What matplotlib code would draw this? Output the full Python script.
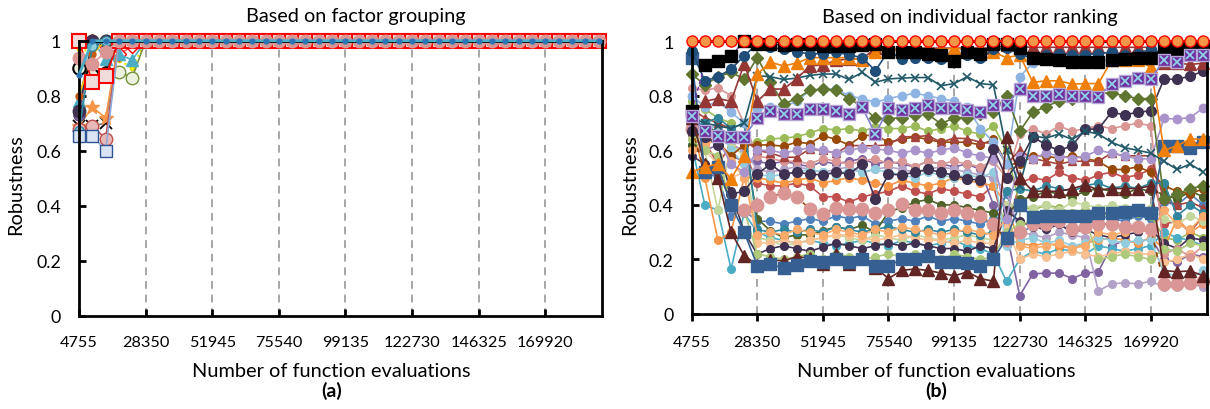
import numpy as np
import matplotlib
matplotlib.use('Agg')
import matplotlib.pyplot as plt

plt.rcParams['font.family'] = ['Lato', 'DejaVu Sans']

# number of function evaluations (40 sampled points) and axis ticks
evals = np.arange(4755, 190000, 4719)
tick_evals = [4755, 28350, 51945, 75540, 99135, 122730, 146325, 169920]
y_ticks = [0, 0.2, 0.4, 0.6, 0.8, 1]
y_labels = ['0', '0.2', '0.4', '0.6', '0.8', '1']

# ---- panel (a): first five points of each series, afterwards all at 1 ----
a_tail = [1.0] * 35
a_light_sq = [0.655, 0.655, 0.60, 1.0, 1.0]
a_pink = [0.936, 0.915, 0.96, 1.0, 1.0]
a_black_ring = [0.90, 0.875, 0.883, 1.0, 1.0]
a_red_sq = [1.0, 0.85, 0.87, 1.0, 1.0]
a_olive_ring = [1.0, 1.0, 1.0, 0.885, 0.866]
a_teal_tri = [0.78, 1.0, 0.933, 0.95, 0.93]
a_orange_star = [0.69, 0.758, 0.72, 1.0, 1.0]
a_black_x = [0.69, 0.69, 0.70, 1.0, 1.0]
a_salmon = [0.68, 0.69, 0.643, 1.0, 1.0]
a_dark_purple = [0.745, 1.0, 1.0, 1.0, 1.0]
a_brown = [0.80, 0.95, 1.0, 1.0, 1.0]
a_red_diamond = [1.0, 1.0, 0.98, 0.95, 0.98]
a_yellow = [0.97, 0.96, 1.0, 0.93, 0.90]
a_purple = [0.73, 1.0, 0.99, 1.0, 1.0]
a_teal_circle = [0.673, 0.98, 1.0, 1.0, 1.0]
a_blue_dot = [0.875, 1.0, 1.0, 1.0, 1.0]

# ---- panel (b) ----
b_top = [1.0] * 40
b_black_sq = [0.745, 0.913, 0.929, 0.947, 1.0, 0.99, 0.99, 0.985, 0.99, 0.99,
              0.984, 0.984, 0.984, 0.985, 0.99, 0.962, 0.96, 0.96, 0.953, 0.95,
              0.929, 0.96, 0.955, 0.99, 0.99, 0.976, 0.937, 0.935, 0.933, 0.925,
              0.925, 0.925, 0.93, 0.935, 0.94, 0.94, 0.974, 0.972, 0.984, 0.984]
b_dark_blue = [0.965, 0.855, 0.87, 0.898, 0.947, 0.99, 0.978, 0.97, 0.96, 0.955,
               0.953, 0.96, 0.95, 0.94, 0.892, 0.965, 0.935, 0.94, 0.94, 0.935,
               0.927, 0.95, 0.94, 0.97, 0.975, 0.955, 0.935, 0.95, 0.955, 0.95,
               0.95, 0.955, 0.96, 0.95, 0.955, 0.972, 0.955, 0.96, 0.96, 0.955]
b_orange_tri = [0.52, 0.54, 0.55, 0.495, 0.58, 0.88, 0.923, 0.91, 0.92, 0.94,
                0.94, 0.94, 0.94, 0.93, 0.96, 0.97, 0.97, 0.97, 0.97, 0.97,
                0.975, 0.97, 0.97, 0.96, 0.94, 0.95, 0.85, 0.855, 0.855, 0.843,
                0.845, 0.845, 0.93, 0.93, 0.93, 0.905, 0.60, 0.617, 0.642, 0.64]
b_brick_tri = [0.73, 0.78, 0.79, 0.78, 0.917, 0.78, 0.825, 0.825, 0.862, 0.91,
               0.913, 0.93, 0.935, 0.935, 0.975, 0.97, 0.97, 0.975, 0.975, 0.975,
               0.975, 0.975, 0.975, 0.975, 0.985, 0.98, 0.978, 0.978, 0.978, 0.978,
               0.978, 0.978, 0.978, 0.978, 0.978, 0.978, 0.92, 0.92, 0.915, 0.92]
b_teal_x = [0.72, 0.70, 0.69, 0.68, 0.70, 0.874, 0.87, 0.86, 0.865, 0.875,
            0.88, 0.88, 0.86, 0.886, 0.85, 0.862, 0.865, 0.867, 0.867, 0.837,
            0.845, 0.87, 0.845, 0.84, 0.60, 0.47, 0.654, 0.645, 0.66, 0.64,
            0.67, 0.66, 0.63, 0.61, 0.60, 0.59, 0.56, 0.53, 0.55, 0.52]
b_purple_xsq = [0.727, 0.672, 0.654, 0.65, 0.65, 0.718, 0.745, 0.735, 0.735, 0.752,
                0.752, 0.745, 0.735, 0.758, 0.66, 0.754, 0.748, 0.756, 0.766, 0.757,
                0.757, 0.748, 0.74, 0.766, 0.766, 0.825, 0.80, 0.80, 0.807, 0.80,
                0.80, 0.797, 0.843, 0.855, 0.864, 0.862, 0.93, 0.925, 0.95, 0.95]
b_green_dia = [0.88, 0.84, 0.87, 0.886, 0.862, 0.94, 0.85, 0.77, 0.79, 0.82,
               0.825, 0.82, 0.79, 0.76, 0.718, 0.716, 0.72, 0.73, 0.733, 0.697,
               0.72, 0.72, 0.735, 0.74, 0.80, 0.67, 0.74, 0.76, 0.782, 0.79,
               0.807, 0.81, 0.81, 0.80, 0.79, 0.79, 0.42, 0.44, 0.46, 0.47]
b_light_blue = [0.80, 0.76, 0.78, 0.74, 0.70, 0.75, 0.76, 0.76, 0.78, 0.82,
                0.825, 0.825, 0.80, 0.79, 0.776, 0.79, 0.80, 0.81, 0.80, 0.79,
                0.78, 0.76, 0.68, 0.63, 0.55, 0.87, 0.92, 0.93, 0.93, 0.93,
                0.93, 0.93, 0.93, 0.93, 0.93, 0.93, 0.94, 0.94, 0.95, 0.95]
b_navy = [0.67, 0.65, 0.62, 0.44, 0.45, 0.513, 0.55, 0.513, 0.52, 0.513,
          0.51, 0.52, 0.513, 0.55, 0.42, 0.513, 0.51, 0.52, 0.53, 0.52,
          0.508, 0.496, 0.49, 0.605, 0.50, 0.56, 0.65, 0.62, 0.60, 0.617,
          0.678, 0.678, 0.74, 0.73, 0.74, 0.745, 0.862, 0.86, 0.873, 0.89]
b_lavender = [0.68, 0.66, 0.64, 0.55, 0.52, 0.60, 0.60, 0.59, 0.60, 0.61,
              0.60, 0.59, 0.60, 0.61, 0.605, 0.60, 0.59, 0.60, 0.59, 0.60,
              0.61, 0.59, 0.58, 0.57, 0.35, 0.58, 0.57, 0.59, 0.58, 0.57,
              0.58, 0.60, 0.59, 0.58, 0.568, 0.57, 0.717, 0.715, 0.72, 0.756]
b_blue_sq = [0.937, 0.52, 0.54, 0.40, 0.30, 0.177, 0.183, 0.168, 0.18, 0.195,
             0.19, 0.2, 0.19, 0.2, 0.177, 0.177, 0.2, 0.2, 0.213, 0.19,
             0.19, 0.188, 0.176, 0.20, 0.28, 0.40, 0.356, 0.36, 0.36, 0.36,
             0.36, 0.37, 0.37, 0.375, 0.38, 0.37, 0.617, 0.615, 0.61, 0.63]
b_maroon_tri = [0.72, 0.55, 0.50, 0.30, 0.214, 0.18, 0.198, 0.195, 0.21, 0.205,
                0.183, 0.22, 0.185, 0.205, 0.17, 0.13, 0.16, 0.165, 0.16, 0.15,
                0.14, 0.154, 0.13, 0.12, 0.65, 0.50, 0.45, 0.45, 0.45, 0.46,
                0.473, 0.455, 0.46, 0.46, 0.46, 0.47, 0.159, 0.155, 0.158, 0.14]
b_pink_big = [0.68, 0.52, 0.54, 0.40, 0.38, 0.40, 0.43, 0.444, 0.43, 0.385,
              0.367, 0.39, 0.385, 0.384, 0.37, 0.38, 0.403, 0.38, 0.38, 0.37,
              0.38, 0.37, 0.36, 0.33, 0.27, 0.30, 0.33, 0.33, 0.342, 0.31,
              0.32, 0.33, 0.33, 0.32, 0.32, 0.31, 0.11, 0.11, 0.115, 0.12]

# crowded middle band of panel (b)
b_band = [
    [0.80, 0.52, 0.50, 0.36, 0.38,
     0.34, 0.34, 0.33, 0.34, 0.35, 0.34, 0.36, 0.35, 0.36, 0.33, 0.34, 0.35, 0.34, 0.36, 0.34, 0.35, 0.34, 0.33, 0.35,
     0.44,
     0.30, 0.32, 0.31, 0.33, 0.30, 0.32, 0.36, 0.35, 0.34, 0.36, 0.35,
     0.41, 0.40, 0.44, 0.40],
    [0.69, 0.63, 0.55, 0.62, 0.60,
     0.48, 0.47, 0.47, 0.48, 0.47, 0.43, 0.43, 0.41, 0.43, 0.44, 0.45, 0.47, 0.45, 0.44, 0.46, 0.45, 0.44, 0.43, 0.47,
     0.30,
     0.48, 0.50, 0.49, 0.52, 0.50, 0.49, 0.51, 0.52, 0.50, 0.51, 0.53,
     0.33, 0.34, 0.30, 0.36],
    [0.78, 0.75, 0.72, 0.70, 0.62,
     0.63, 0.642, 0.645, 0.65, 0.664, 0.68, 0.675, 0.68, 0.67, 0.686, 0.68, 0.68, 0.69, 0.67, 0.68, 0.69, 0.67, 0.66, 0.69,
     0.60,
     0.40, 0.38, 0.40, 0.39, 0.37, 0.38, 0.36, 0.37, 0.38, 0.37, 0.36,
     0.28, 0.27, 0.30, 0.28],
    [0.66, 0.60, 0.62, 0.58, 0.56,
     0.56, 0.55, 0.56, 0.55, 0.54, 0.56, 0.55, 0.56, 0.57, 0.55, 0.56, 0.55, 0.54, 0.56, 0.55, 0.54, 0.55, 0.53, 0.40,
     0.30,
     0.067, 0.147, 0.15, 0.15, 0.13, 0.15, 0.155, 0.25, 0.27, 0.26, 0.28,
     0.20, 0.19, 0.22, 0.21],
    [0.67, 0.70, 0.68, 0.62, 0.60,
     0.53, 0.52, 0.53, 0.54, 0.53, 0.52, 0.53, 0.54, 0.52, 0.53, 0.54, 0.53, 0.52, 0.53, 0.54, 0.53, 0.52, 0.51, 0.50,
     0.45,
     0.30, 0.29, 0.28, 0.30, 0.29, 0.28, 0.085, 0.11, 0.115, 0.11, 0.12,
     0.10, 0.10, 0.11, 0.10],
    [0.62, 0.40, 0.38, 0.165, 0.37,
     0.30, 0.28, 0.27, 0.26, 0.27, 0.26, 0.25, 0.26, 0.27, 0.26, 0.25, 0.27, 0.26, 0.25, 0.26, 0.27, 0.25, 0.24, 0.22,
     0.12,
     0.20, 0.23, 0.22, 0.24, 0.23, 0.22, 0.25, 0.24, 0.23, 0.24, 0.25,
     0.30, 0.28, 0.27, 0.25],
    [0.70, 0.50, 0.27, 0.30, 0.50,
     0.50, 0.49, 0.48, 0.49, 0.50, 0.48, 0.49, 0.50, 0.49, 0.48, 0.47, 0.49, 0.48, 0.47, 0.48, 0.50, 0.49, 0.48, 0.47,
     0.40,
     0.26, 0.25, 0.26, 0.25, 0.24, 0.26, 0.27, 0.28, 0.27, 0.26, 0.28,
     0.24, 0.35, 0.30, 0.33],
    [0.62, 0.70, 0.66, 0.62, 0.64,
     0.35, 0.305, 0.28, 0.29, 0.29, 0.305, 0.32, 0.31, 0.325, 0.30, 0.375, 0.39, 0.41, 0.42, 0.40, 0.40, 0.39, 0.38, 0.37,
     0.36,
     0.42, 0.43, 0.45, 0.44, 0.43, 0.45, 0.46, 0.45, 0.44, 0.46, 0.45,
     0.44, 0.42, 0.45, 0.43],
    [0.70, 0.60, 0.38, 0.62, 0.58,
     0.28, 0.27, 0.25, 0.26, 0.27, 0.28, 0.29, 0.28, 0.27, 0.29, 0.28, 0.27, 0.29, 0.28, 0.27, 0.28, 0.29, 0.28, 0.27,
     0.40,
     0.40, 0.39, 0.40, 0.38, 0.41, 0.40, 0.39, 0.40, 0.39, 0.38, 0.39,
     0.35, 0.33, 0.36, 0.34],
    [0.72, 0.60, 0.55, 0.50, 0.52,
     0.26, 0.26, 0.27, 0.26, 0.27, 0.28, 0.29, 0.29, 0.28, 0.27, 0.28, 0.29, 0.28, 0.27, 0.27, 0.26, 0.27, 0.26, 0.26,
     0.32,
     0.20, 0.22, 0.21, 0.22, 0.23, 0.22, 0.21, 0.22, 0.23, 0.22, 0.22,
     0.19, 0.20, 0.22, 0.20],
    [0.58, 0.55, 0.50, 0.45, 0.30,
     0.22, 0.24, 0.25, 0.24, 0.23, 0.245, 0.26, 0.25, 0.24, 0.25, 0.26, 0.25, 0.26, 0.25, 0.24, 0.24, 0.23, 0.25, 0.24,
     0.38,
     0.34, 0.32, 0.31, 0.33, 0.30, 0.31, 0.29, 0.28, 0.29, 0.30, 0.31,
     0.26, 0.24, 0.28, 0.27],
    [0.71, 0.68, 0.69, 0.60, 0.55,
     0.51, 0.507, 0.51, 0.52, 0.53, 0.52, 0.51, 0.53, 0.52, 0.53, 0.52, 0.51, 0.50, 0.52, 0.51, 0.50, 0.51, 0.50, 0.52,
     0.25,
     0.27, 0.28, 0.26, 0.27, 0.25, 0.26, 0.28, 0.27, 0.26, 0.27, 0.27,
     0.15, 0.14, 0.13, 0.16],
    [0.83, 0.82, 0.83, 0.80, 0.70,
     0.58, 0.57, 0.56, 0.56, 0.55, 0.57, 0.56, 0.55, 0.56, 0.57, 0.55, 0.56, 0.54, 0.56, 0.55, 0.56, 0.55, 0.54, 0.56,
     0.50,
     0.66, 0.68, 0.66, 0.69, 0.67, 0.68, 0.69, 0.68, 0.69, 0.70, 0.69,
     0.22, 0.24, 0.21, 0.25],
    [0.66, 0.65, 0.63, 0.58, 0.62,
     0.62, 0.62, 0.615, 0.63, 0.625, 0.654, 0.64, 0.62, 0.654, 0.656, 0.63, 0.64, 0.65, 0.64, 0.63, 0.63, 0.63, 0.62, 0.64,
     0.55,
     0.55, 0.58, 0.58, 0.57, 0.58, 0.57, 0.56, 0.53, 0.53, 0.54, 0.52,
     0.47, 0.45, 0.44, 0.46],
    [0.75, 0.72, 0.70, 0.68, 0.64,
     0.60, 0.59, 0.575, 0.575, 0.605, 0.60, 0.59, 0.618, 0.617, 0.617, 0.62, 0.65, 0.65, 0.654, 0.63, 0.645, 0.643, 0.63, 0.625,
     0.55,
     0.60, 0.57, 0.56, 0.55, 0.56, 0.56, 0.56, 0.59, 0.58, 0.58, 0.58,
     0.42, 0.40, 0.41, 0.39],
    [0.69, 0.70, 0.72, 0.68, 0.70,
     0.31, 0.30, 0.31, 0.30, 0.31, 0.30, 0.32, 0.31, 0.30, 0.31, 0.32, 0.31, 0.30, 0.31, 0.30, 0.31, 0.30, 0.29, 0.30,
     0.45,
     0.46, 0.45, 0.47, 0.46, 0.45, 0.47, 0.48, 0.46, 0.47, 0.46, 0.48,
     0.48, 0.36, 0.40, 0.37],
    [0.60, 0.62, 0.64, 0.56, 0.50,
     0.29, 0.30, 0.29, 0.31, 0.30, 0.29, 0.31, 0.30, 0.29, 0.31, 0.30, 0.32, 0.31, 0.30, 0.29, 0.30, 0.31, 0.30, 0.29,
     0.35,
     0.25, 0.24, 0.25, 0.26, 0.24, 0.25, 0.30, 0.29, 0.30, 0.31, 0.30,
     0.38, 0.33, 0.31, 0.36],
    [0.64, 0.60, 0.58, 0.40, 0.38,
     0.22, 0.21, 0.20, 0.21, 0.22, 0.20, 0.22, 0.21, 0.20, 0.21, 0.22, 0.21, 0.22, 0.21, 0.20, 0.22, 0.21, 0.20, 0.21,
     0.30,
     0.33, 0.34, 0.33, 0.35, 0.34, 0.35, 0.20, 0.21, 0.22, 0.21, 0.20,
     0.24, 0.23, 0.26, 0.25],
]
band_colors = ['#4f81bd', '#c0504d', '#9bbb59', '#8064a2', '#b3a2c7', '#4bacc6',
               '#f79646', '#4f6228', '#c3d69b', '#fac090', '#403151', '#93cddd',
               '#d99694', '#984807', '#a5443e', '#31859c', '#f9ab6b', '#afc97a']
band_markers = ['o'] * 14 + ['^', 'o', 'o', 'o']


def setup(ax, xdir, xpad):
    ax.set_xlim(4755, 190000)
    ax.set_ylim(0, 1)
    ax.set_xticks(tick_evals)
    ax.set_xticklabels([str(t) for t in tick_evals])
    ax.set_yticks(y_ticks)
    ax.set_yticklabels(y_labels)
    ax.tick_params(axis='x', direction=xdir, length=5, width=2, pad=xpad, labelsize=11.7)
    ax.tick_params(axis='y', direction='in', length=5, width=2, pad=13, labelsize=12.8)
    ax.tick_params(top=False, right=False)
    for sp in ax.spines.values():
        sp.set_linewidth(2)
    ax.vlines(tick_evals[1:], 0, 1, colors='#a6a6a6', linestyles=(0, (4, 3)),
              linewidth=1.4, zorder=0)


def draw(ax, y, marker, ms, face, edge, color, lw=1.2, ls='-', mew=1.0, z=2):
    ax.plot(evals, y, linestyle=ls, color=color, linewidth=lw, marker=marker,
            markersize=ms, markerfacecolor=face, markeredgecolor=edge,
            markeredgewidth=mew, clip_on=False, zorder=z)


fig = plt.figure(figsize=(12.1, 4.1), dpi=100)
W, H = 1210, 410
ax1 = fig.add_axes([79 / W, 1 - 316.7 / H, (602 - 79) / W, (316.7 - 41.7) / H])
ax2 = fig.add_axes([691.7 / W, 1 - 315 / H, (1206.7 - 691.7) / W, (315 - 42.3) / H])

# ---- panel (a) ----
setup(ax1, 'in', 14)
draw(ax1, a_yellow + a_tail, 'o', 3, '#ffff00', '#d6d600', '#e6e600', lw=1.5, ls=':')
draw(ax1, a_red_diamond + a_tail, 'D', 7, 'white', '#ff0000', '#ff6060')
draw(ax1, a_olive_ring + a_tail, 'o', 9, '#ebf1de', '#77933c', '#77933c')
draw(ax1, a_teal_tri + a_tail, '^', 9, '#4bacc6', '#4bacc6', '#4bacc6')
draw(ax1, a_black_x + a_tail, 'x', 8, 'black', 'black', '#7f7f7f', mew=1.3)
draw(ax1, a_orange_star + a_tail, '*', 10, '#f79646', '#f79646', '#f79646')
draw(ax1, a_salmon + a_tail, 'o', 9, '#e6b9b8', '#c0504d', '#c0504d')
draw(ax1, a_purple + a_tail, 'o', 8, '#8064a2', '#5f497a', '#8064a2')
draw(ax1, a_dark_purple + a_tail, 'o', 9, '#403151', '#403151', '#403151')
draw(ax1, a_brown + a_tail, 'o', 5, '#c55a11', '#c55a11', '#ffc000')
draw(ax1, a_teal_circle + a_tail, 'o', 7, '#93cddd', '#31859c', '#31859c')
draw(ax1, a_light_sq + a_tail, 's', 9, '#dae3f3', '#2f5597', '#8faadc')
draw(ax1, a_black_ring + a_tail, 'o', 9, '#ebf1de', 'black', '#595959', mew=1.5)
draw(ax1, a_red_sq + a_tail, 's', 10, '#f2dcdb', '#ff0000', '#ff0000', mew=1.5)
draw(ax1, a_pink + a_tail, 'o', 9, '#d99694', '#d99694', '#d99694')
draw(ax1, a_blue_dot + a_tail, 'o', 3.5, '#2e75b6', '#2e75b6', '#4bacc6', lw=2, z=3)

# ---- panel (b) ----
setup(ax2, 'out', 10)
for vals, col, mk in zip(b_band, band_colors, band_markers):
    draw(ax2, vals, mk, 5.5, col, col, col)
draw(ax2, b_pink_big, 'o', 9, '#da9694', '#da9694', '#984807', lw=1.2, ls=(0, (3, 3)))
draw(ax2, b_lavender, 'o', 6, '#a994cc', '#a994cc', '#a994cc')
draw(ax2, b_light_blue, 'o', 6, '#8db4e2', '#8db4e2', '#8db4e2')
draw(ax2, b_navy, 'o', 7, '#3f3151', '#3f3151', '#3f3151')
draw(ax2, b_green_dia, 'D', 6, '#5f7530', '#5f7530', '#5f7530')
draw(ax2, b_teal_x, 'x', 6, '#215968', '#215968', '#215968', mew=1.2)
draw(ax2, b_maroon_tri, '^', 8, '#632523', '#632523', '#632523')
draw(ax2, b_blue_sq, 's', 8, '#366092', '#366092', '#366092')
draw(ax2, b_brick_tri, '^', 8, '#953735', '#953735', '#953735')
draw(ax2, b_orange_tri, '^', 8, '#f07f09', '#f07f09', '#f07f09')
draw(ax2, b_purple_xsq, 's', 9, '#7030a0', '#b4a7d6', '#7f7fd0', z=3)
ax2.plot(evals, b_purple_xsq, linestyle='none', marker='x', markersize=6,
         markeredgecolor='#8ed1e6', markeredgewidth=1.3, clip_on=False, zorder=3)
draw(ax2, b_dark_blue, 'o', 7, '#1f4e79', '#1f4e79', '#1f4e79')
draw(ax2, b_black_sq, 's', 8, 'black', 'black', '#7030a0', lw=1.0, ls=(0, (3, 2)))
draw(ax2, b_top, 'o', 8, '#f79646', '#ff0000', '#ff0000', lw=1.5, z=4)

# ---- texts ----
def ftext(x, y, s, **kw):
    fig.text(x / W, 1 - y / H, s, **kw)

ftext(356, 22, 'Based on factor grouping', ha='center', va='baseline', fontsize=14.3)
ftext(970, 22.7, 'Based on individual factor ranking', ha='center', va='baseline', fontsize=14.3)
ftext(331.5, 376.7, 'Number of function evaluations', ha='center', va='baseline', fontsize=14.4)
ftext(936.5, 376.7, 'Number of function evaluations', ha='center', va='baseline', fontsize=14.4)
ftext(331.5, 397, '(a)', ha='center', va='baseline', fontsize=14, fontweight='bold')
ftext(936.5, 397, '(b)', ha='center', va='baseline', fontsize=14, fontweight='bold')
ftext(16, 185, 'Robustness', ha='center', va='center', rotation=90, fontsize=14.4)
ftext(630, 185, 'Robustness', ha='center', va='center', rotation=90, fontsize=14.4)

fig.savefig('out.png', dpi=100)
